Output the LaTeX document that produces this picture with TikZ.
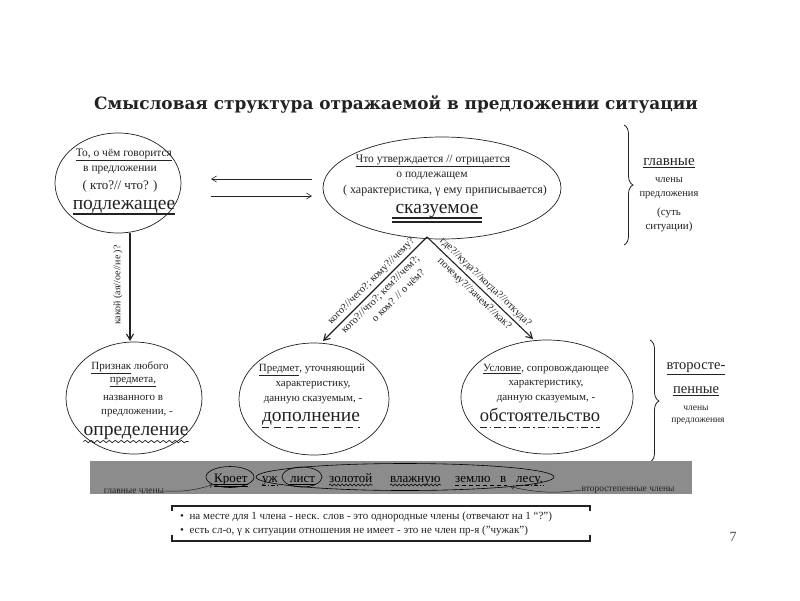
\documentclass[tikz,border=0pt]{standalone}
\usepackage{fontspec}
\setmainfont{Liberation Serif}
\newfontfamily\titlefont{DejaVu Serif}
\usetikzlibrary{shapes.geometric,arrows.meta,decorations.pathreplacing,decorations.pathmorphing}
\newcommand\myfs[1]{\fontsize{#1}{#1}\selectfont}
\newcommand\myul[1]{\underline{#1}}
\definecolor{ink}{HTML}{222222}
\definecolor{barg}{HTML}{8C8C8C}
\begin{document}
\begin{tikzpicture}[x=1pt,y=-1pt,
  ell/.style={draw=ink, ellipse, inner sep=0pt, line width=0.7pt},
  txt/.style={inner sep=0pt, text=ink, font=\myfs{11.5}},
  big/.style={inner sep=0pt, text=ink, font=\myfs{19.5}},
  arr/.style={-{Straight Barb[length=5pt,width=6pt]}, line width=0.6pt, draw=ink},
  thickarr/.style={-{Straight Barb[length=6pt,width=7pt]}, line width=1.1pt, draw=ink},
  lab/.style={inner sep=0pt, text=ink, font=\myfs{10.5}},
  bracestyle/.style={draw=ink, line width=0.8pt, decorate, decoration={brace, amplitude=9pt}},
  wavy/.style={draw=ink, line width=0.7pt, decorate, decoration={snake, amplitude=1.2pt, segment length=6pt}},
  word/.style={inner sep=0pt, anchor=base west, text=black, font=\myfs{13}},
  oval/.style={draw=black, ellipse, line width=0.6pt, inner sep=0pt}
]
\useasboundingbox (0,0) rectangle (800,600);
\fill[white] (0,0) rectangle (800,600);

% title
\node[inner sep=0pt, text=ink, font=\titlefont\bfseries\myfs{16.9}] (title) at (396,104) {Смысловая структура отражаемой в предложении ситуации};

% subject ellipse
\node[ell, minimum width=126pt, minimum height=100pt] (A) at (118,183) {};
\node[txt] (a1) at (124,155) {\myul{То, о чём говорится}};
\node[txt] (a2) at (120,170) {в предложении};
\node[txt, font=\myfs{13}] (a3) at (120,186) {( кто?// что? )};
\node[big] (a4) at (124,207) {подлежащее};
\draw[draw=ink, line width=1.6pt] ([yshift=-4.5pt]a4.base west) -- ([yshift=-4.5pt]a4.base east);

% arrows between
\coordinate (p1) at (211,179);
\coordinate (p2) at (312,179);
\coordinate (p3) at (211,196);
\coordinate (p4) at (312,196);
\draw[arr] (p2) -- (p1);
\draw[arr] (p3) -- (p4);

% predicate ellipse
\node[ell, minimum width=238pt, minimum height=102pt] (B) at (442,188) {};
\node[txt] (b1) at (433,161) {\myul{Что утверждается // отрицается}};
\node[txt] (b2) at (432,176) {о подлежащем};
\node[txt, font=\myfs{12}] (b3) at (445,191) {( характеристика, γ ему приписывается)};
\node[big] (b4) at (437,211) {сказуемое};
\draw[draw=ink, line width=1.1pt] ([xshift=-3pt,yshift=-4.5pt]b4.base west) -- ([xshift=3pt,yshift=-4.5pt]b4.base east);
\draw[draw=ink, line width=1.1pt] ([xshift=-3pt,yshift=-8.5pt]b4.base west) -- ([xshift=3pt,yshift=-8.5pt]b4.base east);

% brace top right
\coordinate (br1) at (624,125);
\coordinate (br2) at (624,245);
\draw[bracestyle] (br1) -- (br2);
\node[txt, font=\myfs{15}] (g1) at (669,163) {\myul{главные}};
\node[txt, font=\myfs{10.5}] (g2) at (669,180) {члены};
\node[txt, font=\myfs{10.5}] (g3) at (669,195) {предложения};
\node[txt, font=\myfs{11}] (g4) at (669,213) {(суть};
\node[txt, font=\myfs{11}] (g5) at (669,227) {ситуации)};

% bottom ellipses
\node[ell, minimum width=136pt, minimum height=112pt] (C) at (134,398) {};
\node[ell, minimum width=150pt, minimum height=112pt] (D) at (314,399) {};
\node[ell, minimum width=172pt, minimum height=114pt] (E) at (547,397) {};

% vertical arrow
\coordinate (v1) at (130,233);
\coordinate (v2) at (130,341);
\draw[thickarr] (v1) -- (v2);
\node[lab, font=\myfs{10}, rotate=90] (vl) at (118,285) {какой (ая//ое//ие )?};

% diagonal arrows
\coordinate (apex) at (427,237);
\coordinate (dl) at (323,341);
\coordinate (dr) at (533,339);
\draw[thickarr] (apex) -- (dl);
\draw[thickarr] (apex) -- (dr);
\path (dl) -- (apex)
  node[lab, sloped, pos=0.52, above=3pt] (l1) {кого?//чего?; кому?//чему?}
  node[lab, sloped, pos=0.5, below=3.5pt] (l2) {кого?//что?; кем?//чем?;}
  node[lab, sloped, pos=0.58, below=17pt] (l3) {о ком? // о чём?};
\path (apex) -- (dr)
  node[lab, sloped, pos=0.5, above=3pt] (r1) {где?//куда?//когда?//откуда?}
  node[lab, sloped, pos=0.5, below=3.5pt] (r2) {почему?//зачем?//как?};

% texts in C
\node[txt, font=\myfs{11}] (c1) at (130,368) {\myul{Признак} любого};
\node[txt, font=\myfs{11}] (c2) at (133,382) {\myul{предмета,}};
\node[txt, font=\myfs{11}] (c3) at (133,398) {названного в};
\node[txt, font=\myfs{11}] (c4) at (137,413) {предложении, -};
\node[big] (c5) at (136,433) {определение};
\draw[wavy] ([yshift=-6pt]c5.base west) -- ([yshift=-6pt]c5.base east);

% texts in D
\node[txt, font=\myfs{11}] (d1) at (312,370) {\myul{Предмет}, уточняющий};
\node[txt, font=\myfs{11}] (d2) at (313,385) {характеристику,};
\node[txt, font=\myfs{11}] (d3) at (313,400) {данную сказуемым, -};
\node[big] (d5) at (311,419) {дополнение};
\draw[draw=ink, line width=1.5pt, dash pattern=on 7pt off 5pt] ([yshift=-6pt]d5.base west) -- ([yshift=-6pt]d5.base east);

% texts in E
\node[txt, font=\myfs{11}] (e1) at (546,369) {\myul{Условие}, сопровождающее};
\node[txt, font=\myfs{11}] (e2) at (546,384) {характеристику,};
\node[txt, font=\myfs{11}] (e3) at (546,399) {данную сказуемым, -};
\node[big, font=\myfs{18.5}] (e5) at (540,415) {обстоятельство};
\draw[draw=ink, line width=1.5pt, dash pattern=on 7pt off 3pt on 1.5pt off 3pt] ([yshift=-6pt]e5.base west) -- ([yshift=-6pt]e5.base east);

% brace bottom right
\coordinate (bb1) at (650,340);
\coordinate (bb2) at (650,462);
\draw[bracestyle] (bb1) -- (bb2);
\node[txt, font=\myfs{14.5}] (s1) at (696,369) {\myul{второсте-}};
\node[txt, font=\myfs{14.5}] (s2) at (696,391) {\myul{пенные}};
\node[txt, font=\myfs{9.5}] (s3) at (696,408) {члены};
\node[txt, font=\myfs{9.5}] (s4) at (698,421) {предложения};

% gray bar
\node[fill=barg, minimum width=602pt, minimum height=33pt, inner sep=0pt] (bar) at (391,477.5) {};
\node[word] (w1) at (214,482) {Кроет};
\node[word] (w2) at (262,482) {уж};
\node[word] (w3) at (290,482) {лист};
\node[word] (w4) at (329,482) {золотой};
\node[word] (w5) at (390,482) {влажную};
\node[word] (w6) at (455,482) {землю};
\node[word] (w7) at (500,482) {в};
\node[word] (w8) at (516,482) {лесу.};
\draw[black, line width=0.6pt] ([yshift=-2pt]w1.base west) -- ([yshift=-2pt]w1.base east);
\draw[black, line width=0.6pt] ([yshift=-4pt]w1.base west) -- ([yshift=-4pt]w1.base east);
\draw[black, line width=0.7pt, dash pattern=on 4pt off 2pt on 1pt off 2pt] ([yshift=-3pt]w2.base west) -- ([yshift=-3pt]w2.base east);
\draw[black, line width=0.6pt] ([yshift=-2.5pt]w3.base west) -- ([yshift=-2.5pt]w3.base east);
\draw[black, line width=0.6pt, decorate, decoration={snake, amplitude=0.9pt, segment length=4pt}] ([yshift=-3pt]w4.base west) -- ([yshift=-3pt]w4.base east);
\draw[black, line width=0.6pt, decorate, decoration={snake, amplitude=0.9pt, segment length=4pt}] ([yshift=-3pt]w5.base west) -- ([yshift=-3pt]w5.base east);
\draw[black, line width=0.7pt, dash pattern=on 4pt off 3pt] ([yshift=-3pt]w6.base west) -- ([yshift=-3pt]w7.base east);
\draw[black, line width=0.7pt, dash pattern=on 4pt off 2pt on 1pt off 2pt] ([yshift=-3pt]w8.base west) -- ([yshift=-3pt]w8.base east);
\node[oval, minimum width=48pt, minimum height=21pt] (o1) at (230,477) {};
\node[oval, minimum width=298pt, minimum height=27pt] (o2) at (405,477) {};
\node[oval, minimum width=40pt, minimum height=20pt] (o3) at (302,477) {};
\node[inner sep=0pt, text=ink, font=\myfs{9.5}] (gl) at (134,491) {главные члены};
\node[inner sep=0pt, text=ink, font=\myfs{9.5}] (vt) at (628,490) {второстепенные члены};
\draw[-{Straight Barb[length=3pt,width=4pt]}, line width=0.5pt, draw=ink] (gl.east) to[bend right=10] (o1.south west);
\draw[-{Straight Barb[length=3pt,width=4pt]}, line width=0.5pt, draw=ink] (vt.west) to[bend left=10] (o2.south east);

% bottom box
\coordinate (k1) at (172,511);
\coordinate (k2) at (172,506);
\coordinate (k3) at (590,506);
\coordinate (k4) at (590,511);
\coordinate (k5) at (172,535);
\coordinate (k6) at (172,541);
\coordinate (k7) at (590,541);
\coordinate (k8) at (590,535);
\draw[draw=ink, line width=1.6pt] (k1) -- (k2) -- (k3) -- (k4);
\draw[draw=ink, line width=1.6pt] (k5) -- (k6) -- (k7) -- (k8);
\node[inner sep=0pt, anchor=west, text=ink, font=\myfs{11}] (t1) at (180,517) {•\ \ на месте для 1 члена - неск. слов - это однородные члены (отвечают на 1 “?”)};
\node[inner sep=0pt, anchor=west, text=ink, font=\myfs{11}] (t2) at (180,531) {•\ \ есть сл-о, γ к ситуации отношения не имеет - это не член пр-я (”чужак”)};

% page number
\node[inner sep=0pt, text=ink!80, font=\myfs{14}] (pg) at (733,537) {7};
\end{tikzpicture}
\end{document}
